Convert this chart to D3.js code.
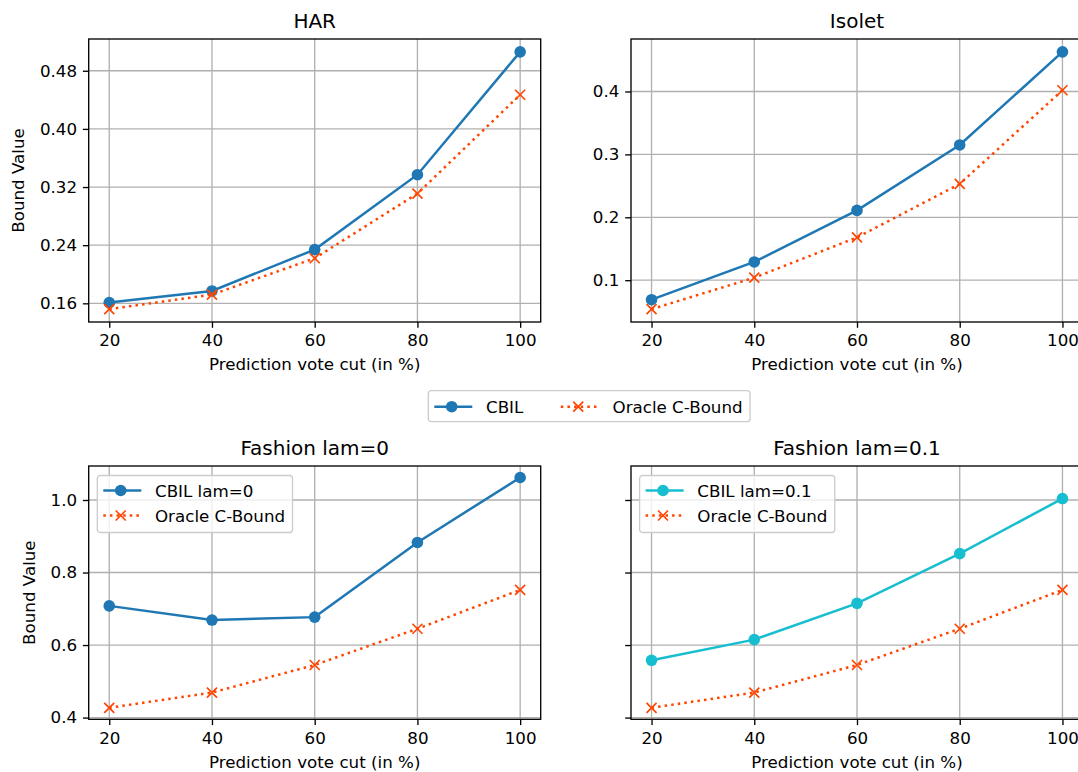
<!DOCTYPE html>
<html>
<head>
<meta charset="utf-8">
<script src="https://cdn.jsdelivr.net/npm/d3@7"></script>
<style>
  body { margin: 0; background: #fff; }
  svg { display: block; font-family: "DejaVu Sans", sans-serif; }
</style>
</head>
<body>
<div id="chart"></div>
<script>
// values
var cuts = [20, 40, 60, 80, 100];

var harCbil = [0.161, 0.177, 0.234, 0.337, 0.506];
var harOracle = [0.152, 0.172, 0.222, 0.311, 0.447];

var isoletCbil = [0.069, 0.129, 0.211, 0.315, 0.463];
var isoletOracle = [0.054, 0.104, 0.168, 0.253, 0.402];

var fashionCbil0 = [0.708, 0.669, 0.677, 0.883, 1.062];
var fashionCbil01 = [0.558, 0.615, 0.715, 0.852, 1.004];
var fashionOracle = [0.427, 0.469, 0.545, 0.645, 0.752];

var harTicks = [0.16, 0.24, 0.32, 0.40, 0.48];
var isoletTicks = [0.1, 0.2, 0.3, 0.4];
var fashionTicks = [0.4, 0.6, 0.8, 1.0];
var xTicks = [20, 40, 60, 80, 100];

var blue = "#1f77b4", cyan = "#17becf", orange = "#ff4500";
var fontSize = 16.7, lw = 2.5, thin = 1.33;

var svg = d3.select("#chart").append("svg")
    .attr("width", 1078)
    .attr("height", 772);

// margin-padded domain like matplotlib's autoscale
function padded(arrays) {
    var all = [].concat.apply([], arrays);
    var lo = d3.min(all), hi = d3.max(all), m = (hi - lo) * 0.05;
    return [lo - m, hi + m];
}

var fashionDomain = padded([fashionCbil0, fashionCbil01, fashionOracle]);

var panels = [
    { title: "HAR", left: 88.7, top: 39, height: 283, yDomain: padded([harCbil, harOracle]),
      ticks: harTicks, fmt: d3.format(".2f"), yLabelX: 24.4, labels: true,
      cbil: harCbil, oracle: harOracle, color: blue, legend: null },
    { title: "Isolet", left: 631, top: 39, height: 283, yDomain: padded([isoletCbil, isoletOracle]),
      ticks: isoletTicks, fmt: d3.format(".1f"), yLabelX: null, labels: true,
      cbil: isoletCbil, oracle: isoletOracle, color: blue, legend: null },
    { title: "Fashion lam=0", left: 88.7, top: 466, height: 253.3, yDomain: fashionDomain,
      ticks: fashionTicks, fmt: d3.format(".1f"), yLabelX: 34.8, labels: true,
      cbil: fashionCbil0, oracle: fashionOracle, color: blue, legend: "CBIL lam=0" },
    { title: "Fashion lam=0.1", left: 631, top: 466, height: 253.3, yDomain: fashionDomain,
      ticks: fashionTicks, fmt: d3.format(".1f"), yLabelX: null, labels: false,
      cbil: fashionCbil01, oracle: fashionOracle, color: cyan, legend: "CBIL lam=0.1" }
];

var width = 452;

function drawMarker(g, type, color, x, y) {
    if (type === "o") {
        g.append("circle")
            .attr("cx", x).attr("cy", y).attr("r", 5.8)
            .attr("fill", color);
    } else {
        g.append("path")
            .attr("transform", "translate(" + x + "," + y + ")")
            .attr("d", "M-5,-5L5,5M-5,5L5,-5")
            .attr("stroke", color)
            .attr("stroke-width", 1.67)
            .attr("fill", "none");
    }
}

function legendItem(g, x0, y, color, marker, dotted, label) {
    g.append("line")
        .attr("x1", x0).attr("x2", x0 + 38)
        .attr("y1", y).attr("y2", y)
        .attr("stroke", color)
        .attr("stroke-width", lw)
        .attr("stroke-dasharray", dotted ? "2.5,4.125" : null);
    drawMarker(g, marker, color, x0 + 17.4, y);
    return g.append("text")
        .attr("x", x0 + 51.7)
        .attr("y", y)
        .attr("dy", "0.36em")
        .attr("font-size", fontSize)
        .text(label);
}

panels.forEach(function (p) {
    var x = d3.scaleLinear().domain([16, 104]).range([0, width]);
    var y = d3.scaleLinear().domain(p.yDomain).range([p.height, 0]);

    var g = svg.append("g")
        .attr("transform", "translate(" + p.left + "," + p.top + ")");

    // grid
    g.append("g")
        .selectAll("line")
        .data(xTicks)
        .enter().append("line")
        .attr("x1", function (d) { return x(d); })
        .attr("x2", function (d) { return x(d); })
        .attr("y1", 0).attr("y2", p.height)
        .attr("stroke", "#b0b0b0").attr("stroke-width", thin);
    g.append("g")
        .selectAll("line")
        .data(p.ticks)
        .enter().append("line")
        .attr("x1", 0).attr("x2", width)
        .attr("y1", function (d) { return y(d); })
        .attr("y2", function (d) { return y(d); })
        .attr("stroke", "#b0b0b0").attr("stroke-width", thin);

    // axes
    var xAxis = g.append("g")
        .attr("transform", "translate(0," + p.height + ")")
        .call(d3.axisBottom(x).tickValues(xTicks).tickSizeOuter(0).tickSize(5.8).tickPadding(5.8));
    var yAxis = g.append("g")
        .call(d3.axisLeft(y).tickValues(p.ticks).tickFormat(p.labels ? p.fmt : "").tickSizeOuter(0).tickSize(5.8).tickPadding(5.8));
    [xAxis, yAxis].forEach(function (a) {
        a.select(".domain").remove();
        a.selectAll(".tick line").attr("stroke", "#000").attr("stroke-width", thin);
        a.selectAll(".tick text")
            .attr("font-size", fontSize)
            .attr("font-family", "DejaVu Sans, sans-serif")
            .attr("fill", "#000");
    });
    xAxis.selectAll(".tick text").attr("dy", "0.76em");

    // series
    var line = d3.line()
        .x(function (d, i) { return x(cuts[i]); })
        .y(function (d) { return y(d); });

    g.append("path")
        .datum(p.cbil)
        .attr("d", line)
        .attr("fill", "none")
        .attr("stroke", p.color)
        .attr("stroke-width", lw);
    p.cbil.forEach(function (d, i) { drawMarker(g, "o", p.color, x(cuts[i]), y(d)); });

    g.append("path")
        .datum(p.oracle)
        .attr("d", line)
        .attr("fill", "none")
        .attr("stroke", orange)
        .attr("stroke-width", lw)
        .attr("stroke-dasharray", "2.5,4.125");
    p.oracle.forEach(function (d, i) { drawMarker(g, "x", orange, x(cuts[i]), y(d)); });

    // frame
    g.append("rect")
        .attr("width", width).attr("height", p.height)
        .attr("fill", "none")
        .attr("stroke", "#000")
        .attr("stroke-width", thin);

    // titles and labels
    g.append("text")
        .attr("x", width / 2).attr("y", -10.7)
        .attr("text-anchor", "middle")
        .attr("font-size", 20)
        .text(p.title);

    g.append("text")
        .attr("x", width / 2).attr("y", p.height + 48.2)
        .attr("text-anchor", "middle")
        .attr("font-size", fontSize)
        .text("Prediction vote cut (in %)");

    if (p.yLabelX !== null) {
        svg.append("text")
            .attr("transform", "translate(" + p.yLabelX + "," + (p.top + p.height / 2) + ") rotate(-90)")
            .attr("text-anchor", "middle")
            .attr("font-size", fontSize)
            .text("Bound Value");
    }

    // legend inside the bottom panels
    if (p.legend) {
        var lg = g.append("g").attr("transform", "translate(8.6,9.5)");
        var box = lg.append("rect")
            .attr("rx", 3).attr("ry", 3)
            .attr("height", 57)
            .attr("fill", "#fff").attr("fill-opacity", 0.8)
            .attr("stroke", "#cccccc").attr("stroke-width", thin);
        var t1 = legendItem(lg, 6, 15, p.color, "o", false, p.legend);
        var t2 = legendItem(lg, 6, 40, orange, "x", true, "Oracle C-Bound");
        var w = Math.max(t1.node().getComputedTextLength(), t2.node().getComputedTextLength());
        box.attr("width", 57.7 + w + 7.4);
    }
});

// shared figure legend between the rows
var fl = svg.append("g").attr("transform", "translate(428.3,390.7)");
var fbox = fl.append("rect")
    .attr("rx", 3).attr("ry", 3)
    .attr("height", 31)
    .attr("fill", "#fff").attr("fill-opacity", 0.8)
    .attr("stroke", "#cccccc").attr("stroke-width", thin);
var ft1 = legendItem(fl, 6, 16, blue, "o", false, "CBIL");
var x2 = 57.7 + ft1.node().getComputedTextLength() + 37.5;
var ft2 = legendItem(fl, x2, 16, orange, "x", true, "Oracle C-Bound");
fbox.attr("width", x2 + 51.7 + ft2.node().getComputedTextLength() + 7.4);
</script>
</body>
</html>
